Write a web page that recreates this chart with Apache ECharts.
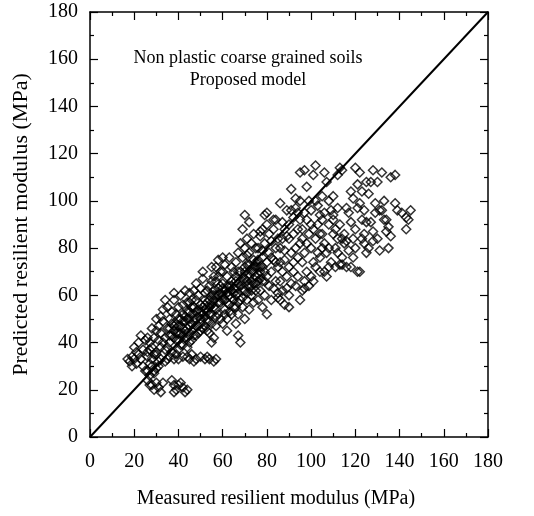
<!DOCTYPE html>
<html>
<head>
<meta charset="utf-8">
<script src="https://cdn.jsdelivr.net/npm/echarts@6/dist/echarts.min.js"></script>
<style>
html,body{margin:0;padding:0;background:#fff;}
#chart{width:534px;height:516px;}
</style>
</head>
<body>
<div id="chart"></div>
<script>
// Axis settings
const axisMin = 0, axisMax = 180, axisStep = 20;
const xTitle = 'Measured resilient modulus (MPa)';
const yTitle = 'Predicted resilient modulus (MPa)';
const noteLines = ['Non plastic coarse grained soils', 'Proposed model'];
const equalityLine = [[0, 0], [180, 180]];

// [measured, predicted] pairs, grouped by region of the cloud
const leftEdge = [[17,33],[18,32],[19,34],[20,33],[21,31],[22,35],[23,33],[24,30],[20,38],[22,40],[24,37],[23,43],[25,41],[21,36],[19,30],[25,28]];
const flatRow = [[26,34],[28,33],[30,35],[32,33],[34,32],[36,34],[38,33],[40,33],[42,34],[44,34],[46,35],[48,33],[50,34],[52,33],[54,33],[56,32],[57,33],[45,33],[47,32],[53,34],[31,32],[35,33]];
const lowGroup = [[26,24],[27,26],[28,22],[29,20],[30,23],[31,21],[32,19],[33,23],[29,27],[27,22],[37,24],[38,22],[39,20],[40,22],[41,23],[42,21],[43,19],[44,20],[38,19],[26,28],[28,30],[30,29],[27,31],[29,28],[31,30]];
const band25 = [[26,36],[27,40],[28,38],[29,42],[30,45],[31,47],[32,44],[33,40],[34,42],[35,46],[28,46],[30,36],[32,38],[34,37],[26,42],[29,35],[33,49],[35,38],[31,41],[27,37],[33,54],[35,55],[32,51],[30,50],[34,58]];
const band35 = [[36,40],[37,43],[38,45],[39,48],[40,41],[41,44],[42,46],[43,49],[44,42],[45,47],[36,50],[37,53],[38,58],[40,55],[41,60],[42,52],[43,62],[44,57],[45,61],[39,52],[40,37],[42,39],[44,38],[36,46],[38,42],[41,50],[43,45],[45,53],[37,36],[39,35],[40,47],[44,50],[45,43],[42,56],[38,61]];
const band45 = [[46,45],[47,50],[48,53],[49,47],[50,56],[51,52],[52,58],[53,49],[54,55],[55,60],[46,58],[47,62],[48,65],[49,60],[50,63],[51,67],[52,54],[53,62],[54,64],[55,52],[46,41],[48,43],[50,45],[52,47],[54,44],[51,70],[47,55],[49,51],[53,57],[55,66],[50,50],[45,57],[46,52],[48,58],[52,61],[54,49],[56,42],[55,40]];
const band55 = [[56,55],[57,60],[58,63],[59,57],[60,65],[61,62],[62,68],[63,60],[64,66],[65,70],[56,68],[57,72],[58,75],[59,70],[60,58],[61,54],[62,50],[63,56],[64,62],[65,58],[56,62],[58,52],[60,48],[62,45],[64,52],[57,66],[59,64],[61,73],[63,76],[65,63],[60,70],[58,68],[62,64],[64,72],[66,55],[60,76],[55,72],[57,47]];
const band65 = [[66,60],[67,65],[68,70],[69,62],[70,67],[71,73],[72,64],[73,70],[74,75],[75,68],[66,74],[67,78],[68,82],[69,76],[70,80],[71,84],[72,78],[73,82],[74,86],[75,80],[66,48],[67,52],[68,40],[67,43],[69,55],[70,50],[71,58],[72,54],[73,60],[74,57],[75,62],[68,58],[70,72],[72,69],[74,65],[67,70],[69,88],[72,91],[70,94],[75,74],[73,66],[66,66],[71,77]];
const core = [[38,47],[39,44],[40,50],[41,47],[42,43],[43,51],[44,46],[45,50],[46,48],[47,46],[48,50],[49,54],[50,48],[51,55],[52,51],[53,53],[54,58],[55,56],[56,58],[57,54],[58,57],[59,61],[60,60],[61,58],[62,61],[63,64],[64,59],[65,61],[66,63],[67,61],[68,64],[69,66],[70,62],[71,66],[72,68],[73,64],[74,70],[75,72],[76,69],[77,70],[78,72],[40,44],[42,49],[44,53],[46,55],[48,47],[50,53],[52,56],[54,52],[56,60],[58,60],[60,63],[62,57],[64,64],[66,68],[68,66],[70,70],[72,73],[74,72],[76,75],[78,79],[36,43],[37,48],[39,41],[41,39],[43,42],[45,40],[47,43],[49,44],[51,46],[53,45],[55,48],[57,51],[59,50],[61,52],[63,53],[65,55],[67,57],[69,59],[71,61],[73,62],[75,65],[77,67],[79,66]];
const band75 = [[76,66],[77,72],[78,76],[79,70],[80,74],[81,78],[82,70],[83,75],[84,80],[85,72],[76,80],[77,85],[78,88],[79,82],[80,90],[81,86],[82,83],[83,88],[84,92],[85,84],[76,58],[77,62],[78,55],[79,60],[80,52],[81,64],[82,58],[83,63],[84,66],[85,61],[76,72],[78,66],[80,68],[82,76],[84,74],[80,95],[86,99],[79,94],[77,87],[83,92]];
const band85 = [[86,66],[87,70],[88,75],[89,68],[90,72],[91,78],[92,74],[93,80],[94,76],[95,82],[86,80],[87,84],[88,88],[89,85],[90,90],[91,96],[92,93],[93,97],[94,88],[95,92],[86,58],[87,62],[88,56],[89,63],[90,60],[91,65],[92,70],[93,64],[94,68],[95,58],[86,74],[88,79],[90,84],[92,86],[94,95],[91,105],[89,96],[93,101],[95,100],[90,55],[85,59],[87,91]];
const band95 = [[96,62],[97,66],[98,70],[99,64],[100,68],[101,74],[102,72],[103,78],[104,76],[105,80],[96,74],[97,78],[98,82],[99,86],[100,80],[101,88],[102,84],[103,90],[104,86],[105,92],[96,88],[97,95],[98,106],[99,100],[100,96],[101,111],[102,115],[103,98],[104,94],[105,102],[97,63],[101,66],[104,70],[96,84],[100,90],[102,100],[98,92],[95,112],[97,113]];
const band105 = [[106,112],[107,108],[108,100],[109,96],[110,92],[111,88],[112,97],[113,90],[114,84],[115,86],[106,82],[107,78],[108,80],[109,74],[110,86],[111,80],[112,78],[113,73],[114,76],[115,82],[106,95],[108,90],[110,102],[112,111],[114,113],[113,114],[106,70],[108,72],[111,72],[114,73],[107,68],[110,94],[112,84],[105,86]];
const band115 = [[116,83],[117,79],[118,91],[119,101],[120,88],[121,97],[122,112],[123,92],[124,86],[125,108],[116,72],[118,72],[120,80],[121,70],[122,70],[123,84],[124,82],[125,91],[118,104],[120,114],[119,84],[121,107],[123,104],[117,95],[119,76],[116,97],[122,99],[124,96],[125,78]];
const band125 = [[126,103],[127,108],[128,113],[129,99],[130,108],[131,96],[132,112],[133,92],[134,87],[135,89],[126,80],[128,87],[130,84],[132,96],[134,92],[135,80],[136,110],[138,111],[138,99],[139,96],[141,95],[143,93],[144,92],[145,96],[143,88],[136,85],[128,83],[127,91],[131,79],[133,100],[129,95]];

const allPoints = [].concat(leftEdge, flatRow, lowGroup, band25, band35, band45, band55, band65, core, band75, band85, band95, band105, band115, band125);

const serif = '"Liberation Serif", "Times New Roman", serif';
const chart = echarts.init(document.getElementById('chart'), null, {renderer: 'canvas'});

function mkAxis(pos, showLabel, name, nameSize, labelMargin) {
  return {
    type: 'value', min: axisMin, max: axisMax, interval: axisStep, position: pos,
    axisLine: {show: true, onZero: false, lineStyle: {color: '#000', width: 1.5}},
    axisTick: {show: true, inside: true, length: 8, lineStyle: {color: '#000', width: 1.2}},
    minorTick: {show: true, splitNumber: 2, length: 4, lineStyle: {color: '#000', width: 1.2}},
    axisLabel: {show: showLabel, color: '#000', fontFamily: serif, fontSize: 20, margin: labelMargin || 10},
    splitLine: {show: false},
    name: name || '', nameLocation: 'middle',
    nameTextStyle: {color: '#000', fontFamily: serif, fontSize: nameSize || 20}
  };
}

const xa = mkAxis('bottom', true, xTitle, 20, 15); xa.nameGap = 52;
xa.nameTextStyle.padding = [0, 26, 0, 0];
const xb = mkAxis('top', false);
const ya = mkAxis('left', true, yTitle, 22, 12); ya.nameGap = 58;
const yb = mkAxis('right', false);

chart.setOption({
  animation: false,
  backgroundColor: '#fff',
  grid: {left: 90, right: 46, top: 12, bottom: 79, containLabel: false},
  xAxis: [xa, xb],
  yAxis: [ya, yb],
  title: {
    text: noteLines.join('\n'),
    left: 243, top: 42, textAlign: 'center',
    textStyle: {color: '#000', fontFamily: serif, fontSize: 18, fontWeight: 'normal', lineHeight: 22}
  },
  series: [
    {
      type: 'line', data: equalityLine, xAxisIndex: 0, yAxisIndex: 0,
      symbol: 'none', lineStyle: {color: '#000', width: 2}, z: 1
    },
    {
      type: 'scatter', data: allPoints, xAxisIndex: 0, yAxisIndex: 0,
      symbol: 'diamond', symbolSize: 9,
      itemStyle: {color: 'rgba(0,0,0,0)', borderColor: '#000', borderWidth: 1.5},
      z: 2
    }
  ]
});
</script>
</body>
</html>
